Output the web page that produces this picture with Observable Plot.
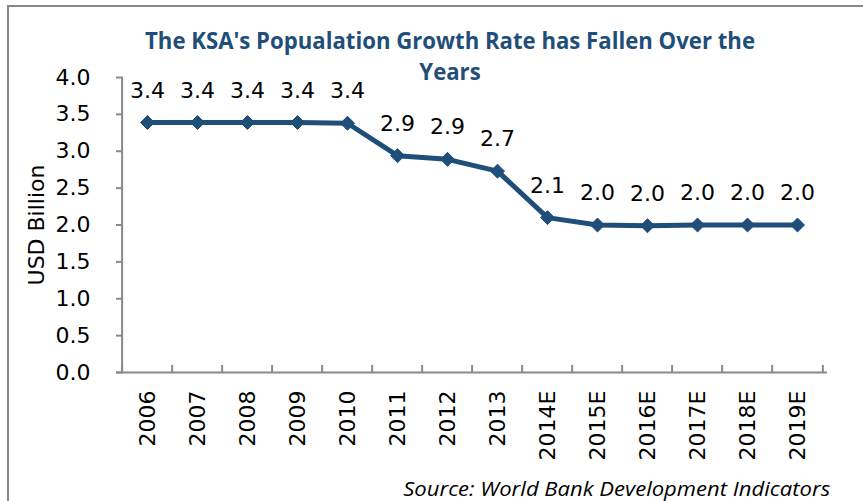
<!DOCTYPE html>
<html>
<head>
<meta charset="utf-8">
<script src="https://cdn.jsdelivr.net/npm/d3@7"></script>
<script src="https://cdn.jsdelivr.net/npm/@observablehq/plot@0.6"></script>
<style>
  html, body { margin: 0; padding: 0; background: #fff; overflow: hidden; }
  #wrap { position: relative; width: 863px; height: 501px; overflow: hidden; }
  #border { position: absolute; left: 7px; top: 5px; width: 880px; height: 520px; border: 2px solid #888888; box-sizing: border-box; }
  #chart { position: absolute; left: 0; top: 0; }
  #chart svg text { font-family: "DejaVu Sans", sans-serif; }
  #title { position: absolute; left: 450px; top: 24px; font-family: "Open Sans", sans-serif; font-weight: 700; font-size: 24px; line-height: 31px; color: #1F4E79; text-align: center; white-space: nowrap; transform-origin: center top; }
  #source { position: absolute; right: 33px; top: 479px; font-family: "Open Sans", sans-serif; font-style: italic; font-size: 20px; line-height: 20px; color: #000; white-space: nowrap; transform-origin: right top; }
</style>
</head>
<body>
<div id="wrap">
  <div id="border"></div>
  <div id="chart"></div>
  <div id="title"><span id="t1">The KSA's Popualation Growth Rate has Fallen Over the</span><br><span>Years</span></div>
  <div id="source">Source: World Bank Development Indicators</div>
</div>
<script>
const years = ["2006","2007","2008","2009","2010","2011","2012","2013","2014E","2015E","2016E","2017E","2018E","2019E"];
const growth = [3.39, 3.39, 3.39, 3.39, 3.38, 2.94, 2.89, 2.73, 2.10, 2.00, 1.99, 2.00, 2.00, 2.00];
const yTicks = [0, 0.5, 1, 1.5, 2, 2.5, 3, 3.5, 4];
const yLabel = "USD Billion";

const data = years.map((y, i) => ({year: y, value: growth[i]}));

const W = 863, H = 501;
const mL = 116, mR = 36, mT = 77, mB = 129;
const step = (W - mL - mR) / years.length;
const gray = "#898989";
const blue = "#1F4E79";
const fs = 22;

const chart = Plot.plot({
  width: W, height: H,
  marginLeft: mL, marginRight: mR, marginTop: mT, marginBottom: mB,
  style: {fontFamily: "'DejaVu Sans', sans-serif", fontSize: "22px", color: "black", background: "transparent"},
  x: {type: "point", domain: years, padding: 0.5, axis: null},
  y: {domain: [0, 4], axis: null},
  marks: [
    Plot.ruleY([0], {stroke: gray, strokeWidth: 2}),
    Plot.ruleX([years[0]], {y1: 0, y2: 4, dx: -step / 2, stroke: gray, strokeWidth: 2}),
    Plot.axisY({ticks: yTicks, tickSize: -7, tickPadding: 33, stroke: gray, strokeWidth: 2, fill: "black", fontSize: fs, tickFormat: d => d.toFixed(1), label: null}),
    Plot.axisX({tickSize: -7, dx: -step / 2, stroke: gray, strokeWidth: 2, tickFormat: () => "", label: null}),
    Plot.axisX({ticks: [years[years.length - 1]], tickSize: -7, dx: step / 2, stroke: gray, strokeWidth: 2, tickFormat: () => "", label: null}),
    Plot.axisX({tickSize: 0, tickRotate: -90, tickPadding: 18, fill: "black", fontSize: fs, label: null}),
    Plot.text([yLabel], {frameAnchor: "left", textAnchor: "middle", dx: -80, rotate: -90, fill: "black", fontSize: fs}),
    Plot.line(data, {x: "year", y: "value", stroke: blue, strokeWidth: 5}),
    Plot.dot(data, {x: "year", y: "value", symbol: "diamond2", r: 6.3, fill: blue, stroke: blue, strokeWidth: 1}),
    Plot.text(data, {x: "year", y: "value", text: d => d.value.toFixed(1), dy: -32, fill: "black", fontSize: fs})
  ]
});
document.getElementById("chart").appendChild(chart);

// fit title and source widths to the reference proportions
const title = document.getElementById("title");
const t1 = document.getElementById("t1");
const tw = t1.getBoundingClientRect().width;
title.style.transform = `translateX(-50%) scaleX(${610 / tw})`;
const src = document.getElementById("source");
const sw = src.getBoundingClientRect().width;
src.style.transform = `scaleX(${427 / sw})`;
</script>
</body>
</html>
